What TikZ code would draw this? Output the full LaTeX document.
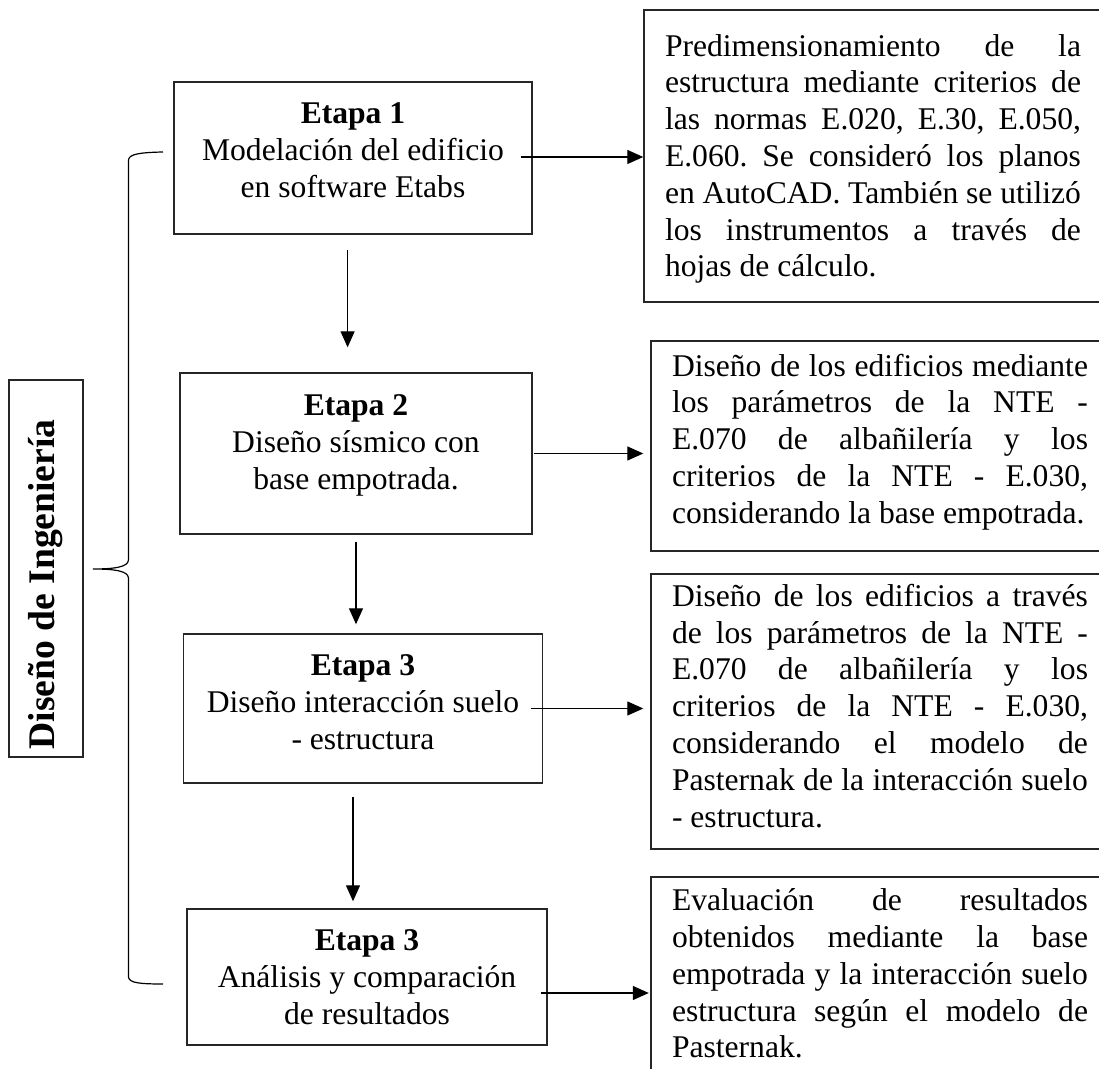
\documentclass[tikz,border=0pt]{standalone}
\usepackage{fontspec}
\setmainfont{Liberation Serif}
\usetikzlibrary{calc,arrows.meta}
\tikzset{stage/.style={draw=black!85,line width=0.7pt,align=center,inner sep=0pt,font=\fontsize{15.8}{18.5}\selectfont}}
\tikzset{note/.style={draw=black!85,line width=0.7pt,text width=208pt,align=justify,inner xsep=10.5pt,inner ysep=0pt,minimum width=229pt,font=\fontsize{15.8}{18.4}\selectfont}}
\tikzset{side/.style={draw=black!85,line width=0.7pt,inner sep=0pt,font=\fontsize{18.8}{22}\selectfont\bfseries}}
\tikzset{flow/.style={-{Triangle[length=8pt,width=7pt]},line width=0.65pt}}
\tikzset{brace/.style={line width=0.6pt}}
% struts to move the text inside a box
\newcommand{\pie}[1]{\rule[-#1]{0pt}{0pt}}
\newcommand{\cima}[1]{\rule{0pt}{#1}}

\begin{document}
\hyphenpenalty=10000
\exhyphenpenalty=10000
\frenchspacing
\begin{tikzpicture}[x=0.5pt,y=-0.5pt]
	\useasboundingbox (0,0) rectangle (1099,1069);

	% etapas
	\node[stage,minimum width=178.9pt,minimum height=76pt] (s1) at (353,158) {\textbf{Etapa 1}\\Modelación del edificio\\en software Etabs\pie{8pt}};
	\node[stage,minimum width=176pt,minimum height=80.5pt] (s2) at (356,453.5) {\textbf{Etapa 2}\\Diseño sísmico con\\base empotrada.\pie{11.4pt}};
	\node[stage,minimum width=179.6pt,minimum height=74.5pt] (s3) at (363,708.5) {\textbf{Etapa 3}\\Diseño interacción suelo\\- estructura\pie{6pt}};
	\node[stage,minimum width=180pt,minimum height=68pt] (s4) at (367,977) {\textbf{Etapa 3}\\Análisis y comparación\\de resultados};

	% descripciones
	\node[note,minimum height=146pt] (n1) at (873,156) {\cima{13.8pt}Predimensionamiento de la\linebreak estructura mediante criterios de\linebreak las normas E.020, E.30, E.050,\linebreak E.060. Se consideró los planos\linebreak en AutoCAD. También se utilizó\linebreak los instrumentos a través de\linebreak hojas de cálculo.};
	\node[note,minimum height=105pt] (n2) at (880,446) {Diseño de los edificios mediante\linebreak los parámetros de la NTE -\linebreak E.070 de albañilería y los\linebreak criterios de la NTE - E.030,\linebreak considerando la base empotrada.\pie{7.4pt}};
	\node[note,minimum height=137.5pt] (n3) at (880,711.5) {Diseño de los edificios a través\linebreak de los parámetros de la NTE -\linebreak E.070 de albañilería y los\linebreak criterios de la NTE - E.030,\linebreak considerando el modelo de\linebreak Pasternak de la interacción suelo\linebreak - estructura.\pie{6pt}};
	\node[note,minimum height=96.5pt] (n4) at (880,973.5) {Evaluación de resultados\linebreak obtenidos mediante la base\linebreak empotrada y la interacción suelo\linebreak estructura según el modelo de\linebreak Pasternak.};

	% titulo lateral
	\node[side,rotate=90,minimum width=188.5pt,minimum height=37pt] (lbl) at (46,568.5) {Diseño de Ingeniería\rule{16pt}{0pt}};

	%% llave
	\draw[brace] (163,152) .. controls (140,152.5) and (129,154) .. (128.5,160) -- (128.5,560)
		.. controls (128,567) and (115,569) .. (93,569)
		.. controls (115,569) and (128,571) .. (128.5,578) -- (128.5,977)
		.. controls (129,983) and (140,984) .. (163,984);

	% flechas
	\draw[flow,shorten >=12.5pt] ($(s1.south)+(-5.4,15)$) coordinate (a1) -- (a1 |- s2.north);
	\draw[flow,shorten >=4.5pt] ($(s2.south)+(0,7)$) coordinate (a2) -- (a2 |- s3.north);
	\draw[flow,shorten >=3.5pt] ($(s3.south)+(-10,13)$) coordinate (a3) -- (a3 |- s4.north);
	\draw[flow] ($(s1.east)+(-12,-1)$) coordinate (b1) -- (b1 -| n1.west);
	\draw[flow,shorten >=3.5pt] ($(s2.east)+(1,0)$) coordinate (b2) -- (b2 -| n2.west);
	\draw[flow,shorten >=3.5pt] ($(s3.east)+(-12.6,0)$) coordinate (b3) -- (b3 -| n3.west);
	\draw[flow,shorten >=0.75pt] ($(s4.east)+(-7,16)$) coordinate (b4) -- (b4 -| n4.west);
\end{tikzpicture}
\end{document}
